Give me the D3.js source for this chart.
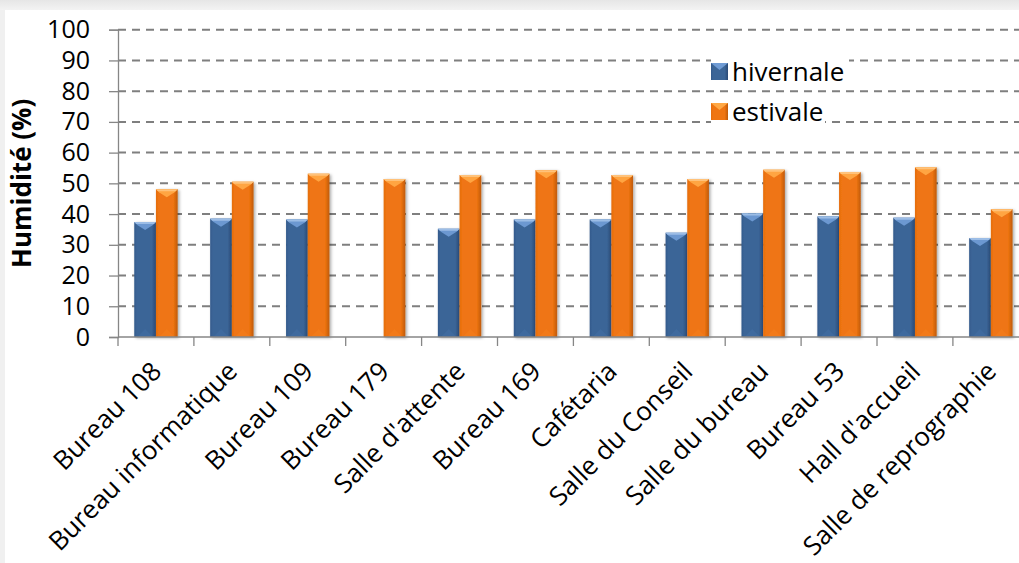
<!DOCTYPE html>
<html><head><meta charset="utf-8">
<script src="https://cdn.jsdelivr.net/npm/d3@7"></script>
<style>
html,body{margin:0;padding:0;background:#f0f0f0;overflow:hidden}
svg{display:block}
text{font-family:"Open Sans",sans-serif;fill:#000}
</style></head>
<body>
<svg id="c" width="1019" height="563"></svg>
<script>
const categories = ["Bureau 108","Bureau informatique","Bureau 109","Bureau 179","Salle d'attente","Bureau 169","Cafétaria","Salle du Conseil","Salle du bureau","Bureau 53","Hall d'accueil","Salle de reprographie"];
const seriesNames = ["hivernale","estivale"];
const hivernale = [37.4,38.5,38.2,null,35.2,38.2,38.2,33.9,40.2,39.2,38.8,32.2];
const estivale  = [48.1,50.5,53.1,51.4,52.7,54.3,52.7,51.4,54.4,53.7,55.2,41.6];
const yTicks = [0,10,20,30,40,50,60,70,80,90,100];
const yTitle = "Humidité (%)";

(function(){
const svg = d3.select("#c");
const W = 1019, H = 563;
const mLeft = 118, yBottom = 337, yTop = 29.7, bw = 75.9;
const mRight = mLeft + bw*categories.length;

const defs = svg.append("defs");
const tg = defs.append("linearGradient").attr("id","topg").attr("x1",0).attr("x2",0).attr("y1",0).attr("y2",1);
tg.append("stop").attr("offset","0%").attr("stop-color","#e6e6e6");
tg.append("stop").attr("offset","100%").attr("stop-color","#f3f3f3");
svg.append("rect").attr("x",0).attr("y",0).attr("width",W).attr("height",10).attr("fill","url(#topg)");
svg.append("rect").attr("x",5).attr("y",10).attr("width",W-5).attr("height",H-10).attr("fill","#fff");

function grad(id, c0, c1, c2){
  const g = defs.append("linearGradient").attr("id",id).attr("x1",0).attr("x2",1).attr("y1",0).attr("y2",0);
  g.append("stop").attr("offset","0%").attr("stop-color",c0);
  g.append("stop").attr("offset","12%").attr("stop-color",c1);
  g.append("stop").attr("offset","80%").attr("stop-color",c1);
  g.append("stop").attr("offset","100%").attr("stop-color",c2);
}
grad("gb","#33598b","#3b6597","#2a4a76");
grad("go","#e46c0c","#ef7512","#bf5a08");
const f = defs.append("filter").attr("id","sh").attr("x","-30%").attr("y","-10%").attr("width","160%").attr("height","130%");
f.append("feDropShadow").attr("dx",1.5).attr("dy",1).attr("stdDeviation",1.6).attr("flood-color","#000").attr("flood-opacity",0.35);

const y = d3.scaleLinear().domain([0,100]).range([yBottom, yTop]);
const x = d3.scaleBand().domain(categories).range([mLeft, mRight]).padding(0);
const x1 = d3.scaleBand().domain(seriesNames).range([0, x.bandwidth()]).paddingInner(0).paddingOuter(0.75);

// gridlines
svg.append("g").selectAll("line").data(yTicks.filter(d=>d>0)).join("line")
  .attr("x1",mLeft).attr("x2",W).attr("y1",d=>y(d)).attr("y2",d=>y(d))
  .attr("stroke","#7f7f7f").attr("stroke-width",2).attr("stroke-dasharray","8,6");

// y axis
const yAxis = svg.append("g").attr("transform",`translate(${mLeft},0)`)
  .call(d3.axisLeft(y).tickValues(yTicks).tickSize(9).tickPadding(19));
yAxis.select(".domain").attr("stroke","#868686").attr("stroke-width",1.3);
yAxis.selectAll(".tick line").attr("stroke","#868686").attr("stroke-width",1.3);
yAxis.selectAll(".tick text").attr("font-size",25).attr("font-family","Open Sans").attr("fill","#000");

const legColors = {hivernale:"url(#gb)", estivale:"url(#go)"};
const legY = [61, 101];
const legend = svg.append("g");
seriesNames.forEach((s,i)=>{
  legend.append("rect").attr("x",711).attr("y",legY[i]-2).attr("width", i===0?138:114).attr("height",24).attr("fill","#fff");
});

// bars
const data = categories.map((c,i)=>({cat:c, vals:[{s:"hivernale",v:hivernale[i]},{s:"estivale",v:estivale[i]}]}));
const groups = svg.append("g").selectAll("g").data(data).join("g").attr("transform",d=>`translate(${x(d.cat)},0)`);
const bars = groups.selectAll("g.bar").data(d=>d.vals.filter(v=>v.v!=null)).join("g").attr("class","bar");
bars.append("rect").attr("x",d=>x1(d.s)).attr("width",x1.bandwidth())
  .attr("y",d=>y(d.v)).attr("height",d=>yBottom-y(d.v))
  .attr("fill",d=>d.s==="hivernale"?"url(#gb)":"url(#go)").attr("filter","url(#sh)");
bars.append("path").attr("d",d=>{
  const x0=x1(d.s), x2=x0+x1.bandwidth(), yt=y(d.v), xm=(x0+x2)/2;
  return `M${x0},${yt}L${x2},${yt}L${x2-3},${yt+3}L${xm},${yt+8}L${x0+3},${yt+3}Z`;
}).attr("fill",d=>d.s==="hivernale"?"#6f9bd4":"#ffa845").attr("opacity",0.95);
bars.append("path").attr("d",d=>{
  const x0=x1(d.s), x2=x0+x1.bandwidth(), yt=y(d.v);
  return `M${x0},${yt}L${x2},${yt}L${x2-2},${yt+2}L${x0+2},${yt+2}Z`;
}).attr("fill",d=>d.s==="hivernale"?"#9cbde6":"#ffc27a");
bars.append("path").attr("d",d=>{
  const x0=x1(d.s), x2=x0+x1.bandwidth(), xm=(x0+x2)/2;
  return `M${x0+3},${yBottom}L${x2-3},${yBottom}L${xm},${yBottom-8}Z`;
}).attr("fill",d=>d.s==="hivernale"?"#4470a6":"#f5801c").attr("opacity",0.5);

// x axis
svg.append("line").attr("x1",mLeft).attr("x2",W).attr("y1",yBottom).attr("y2",yBottom).attr("stroke","#868686").attr("stroke-width",1.3);
svg.append("g").selectAll("line").data(categories.concat(["__end"])).join("line")
  .attr("x1",d=>d==="__end"?mRight:x(d)).attr("x2",d=>d==="__end"?mRight:x(d))
  .attr("y1",yBottom).attr("y2",yBottom+9).attr("stroke","#868686").attr("stroke-width",1.3);
svg.append("g").selectAll("text").data(categories).join("text")
  .attr("transform",d=>`translate(${x(d)+x.bandwidth()/2+7},${yBottom+36}) rotate(-45)`)
  .attr("text-anchor","end").attr("font-size",26).text(d=>d);

// y title
svg.append("text").attr("transform",`translate(31,${(yTop+yBottom)/2}) rotate(-90)`)
  .attr("text-anchor","middle").attr("font-size",26).attr("font-weight","bold").text(yTitle);

// legend content
seriesNames.forEach((s,i)=>{
  const gy = legY[i];
  legend.append("rect").attr("x",711).attr("y",gy+2).attr("width",17).attr("height",17).attr("fill",legColors[s]);
  legend.append("path").attr("d",`M711,${gy+2}L728,${gy+2}L719.5,${gy+9}Z`).attr("fill",s==="hivernale"?"#6f9bd4":"#ffa845");
  legend.append("text").attr("x",732).attr("y",gy+20).attr("font-size",26).text(s);
});
svg.node().appendChild(legend.node());
})();
</script>
</body></html>
